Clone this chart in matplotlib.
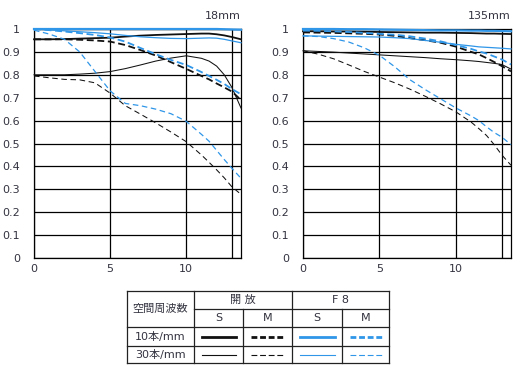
import matplotlib
matplotlib.use("Agg")
import matplotlib.pyplot as plt
from matplotlib.lines import Line2D

plt.rcParams['font.family'] = ['DejaVu Sans', 'Noto Sans CJK JP']
plt.rcParams['lines.scale_dashes'] = False

# ---------------- data ----------------
image_height = [0, 1, 2, 3, 4, 5, 6, 7, 8, 9, 10, 11, 11.5, 12, 12.5, 13, 13.6]

# 18mm
w_open_s10 = [0.955, 0.955, 0.956, 0.958, 0.960, 0.962, 0.967, 0.971, 0.974, 0.976, 0.978, 0.980, 0.980, 0.977, 0.972, 0.965, 0.955]
w_open_m10 = [0.955, 0.955, 0.955, 0.953, 0.950, 0.945, 0.930, 0.908, 0.884, 0.855, 0.826, 0.795, 0.780, 0.762, 0.745, 0.727, 0.690]
w_open_s30 = [0.800, 0.800, 0.800, 0.803, 0.807, 0.814, 0.827, 0.843, 0.860, 0.873, 0.883, 0.872, 0.860, 0.838, 0.800, 0.745, 0.655]
w_open_m30 = [0.795, 0.787, 0.780, 0.778, 0.765, 0.720, 0.665, 0.628, 0.590, 0.550, 0.508, 0.450, 0.418, 0.385, 0.350, 0.311, 0.278]
w_f8_s10 = [1.000, 1.000, 1.000, 1.000, 1.000, 1.000, 1.000, 1.000, 1.000, 1.000, 1.000, 1.000, 1.000, 1.000, 0.999, 0.998, 0.997]
w_f8_m10 = [1.000, 0.995, 0.989, 0.982, 0.974, 0.963, 0.945, 0.917, 0.890, 0.865, 0.843, 0.812, 0.795, 0.778, 0.760, 0.738, 0.715]
w_f8_s30 = [1.000, 0.996, 0.992, 0.988, 0.984, 0.979, 0.972, 0.966, 0.962, 0.959, 0.958, 0.960, 0.961, 0.960, 0.955, 0.948, 0.940]
w_f8_m30 = [0.995, 0.978, 0.955, 0.900, 0.815, 0.730, 0.675, 0.665, 0.650, 0.630, 0.597, 0.540, 0.510, 0.470, 0.430, 0.392, 0.348]

# 135mm
t_open_s10 = [0.990, 0.990, 0.989, 0.989, 0.988, 0.987, 0.986, 0.985, 0.984, 0.984, 0.983, 0.982, 0.981, 0.980, 0.980, 0.979, 0.978]
t_open_m10 = [0.985, 0.984, 0.983, 0.981, 0.979, 0.976, 0.970, 0.960, 0.951, 0.940, 0.923, 0.900, 0.889, 0.873, 0.856, 0.838, 0.815]
t_open_s30 = [0.905, 0.902, 0.899, 0.895, 0.891, 0.887, 0.883, 0.879, 0.875, 0.870, 0.866, 0.861, 0.858, 0.854, 0.850, 0.845, 0.825]
t_open_m30 = [0.905, 0.890, 0.870, 0.843, 0.815, 0.790, 0.765, 0.737, 0.706, 0.673, 0.638, 0.593, 0.565, 0.535, 0.495, 0.450, 0.405]
t_f8_s10 = [1.000, 1.000, 1.000, 0.999, 0.999, 0.998, 0.997, 0.996, 0.995, 0.994, 0.994, 0.993, 0.993, 0.992, 0.992, 0.991, 0.990]
t_f8_m10 = [0.993, 0.992, 0.990, 0.987, 0.983, 0.979, 0.975, 0.968, 0.958, 0.946, 0.930, 0.913, 0.902, 0.893, 0.880, 0.867, 0.845]
t_f8_s30 = [0.970, 0.969, 0.968, 0.967, 0.966, 0.965, 0.962, 0.958, 0.950, 0.942, 0.933, 0.926, 0.922, 0.920, 0.918, 0.916, 0.913]
t_f8_m30 = [0.970, 0.967, 0.958, 0.943, 0.918, 0.885, 0.835, 0.778, 0.735, 0.695, 0.655, 0.620, 0.600, 0.573, 0.548, 0.528, 0.495]

panel_titles = ["18mm", "135mm"]
x_ticks = [0, 5, 10]
y_ticks = [0, 0.1, 0.2, 0.3, 0.4, 0.5, 0.6, 0.7, 0.8, 0.9, 1.0]
y_tick_labels = ["0", "0.1", "0.2", "0.3", "0.4", "0.5", "0.6", "0.7", "0.8", "0.9", "1"]
extra_gridline = 13
x_max = 13.6

# ---------------- styles ----------------
BLACK = '#111111'
BLUE = '#2f96e8'
TXT = '#333340'
THICK = 1.3
THIN = 0.75
DASH_THICK = (5.0, 2.6)
DASH_THIN = (4.0, 2.6)

styles = {
    'open_s10': dict(color=BLACK, lw=THICK, ls='-'),
    'open_m10': dict(color=BLACK, lw=THICK, dashes=DASH_THICK),
    'open_s30': dict(color=BLACK, lw=THIN, ls='-'),
    'open_m30': dict(color=BLACK, lw=THIN, dashes=DASH_THIN),
    'f8_s10': dict(color=BLUE, lw=THICK + 0.3, ls='-'),
    'f8_m10': dict(color=BLUE, lw=THICK, dashes=DASH_THICK),
    'f8_s30': dict(color=BLUE, lw=THIN + 0.15, ls='-'),
    'f8_m30': dict(color=BLUE, lw=THIN + 0.15, dashes=DASH_THIN),
}

panels = [
    {'open_s10': w_open_s10, 'open_m10': w_open_m10, 'open_s30': w_open_s30, 'open_m30': w_open_m30,
     'f8_s10': w_f8_s10, 'f8_m10': w_f8_m10, 'f8_s30': w_f8_s30, 'f8_m30': w_f8_m30},
    {'open_s10': t_open_s10, 'open_m10': t_open_m10, 'open_s30': t_open_s30, 'open_m30': t_open_m30,
     'f8_s10': t_f8_s10, 'f8_m10': t_f8_m10, 'f8_s30': t_f8_s30, 'f8_m30': t_f8_m30},
]

W, H = 517, 373
fig = plt.figure(figsize=(W / 100, H / 100), dpi=100)
fig.patch.set_facecolor('white')

axes_px = [(34, 29, 207, 229), (303, 29, 208, 229)]

for (px, py, pw, ph), data, title in zip(axes_px, panels, panel_titles):
    ax = fig.add_axes([px / W, 1 - (py + ph) / H, pw / W, ph / H])
    ax.set_xlim(0, x_max)
    ax.set_ylim(0, 1)
    ax.set_xticks(x_ticks)
    ax.set_xticklabels([str(v) for v in x_ticks])
    ax.set_yticks(y_ticks)
    ax.set_yticklabels(y_tick_labels)
    ax.tick_params(axis='both', length=0, labelsize=8, colors=TXT)
    ax.tick_params(axis='y', pad=10)
    ax.tick_params(axis='x', pad=4)
    ax.grid(True, color='black', lw=0.9)
    ax.axvline(extra_gridline, color='black', lw=0.9, zorder=0.5)
    ax.set_axisbelow(True)
    for s in ax.spines.values():
        s.set_color('black')
        s.set_linewidth(0.9)
        s.set_zorder(0.6)
    for key in ['open_s30', 'open_m30', 'open_m10', 'open_s10',
                'f8_m30', 'f8_s30', 'f8_m10', 'f8_s10']:
        ax.plot(image_height, data[key], clip_on=False, zorder=3, **styles[key])
    ax.text(1.0, 1.035, title, transform=ax.transAxes, ha='right', va='bottom',
            fontsize=8, color=TXT)

# ---------------- legend table ----------------
tx0, ty0, tx1, ty1 = 127, 291, 389, 363
tab = fig.add_axes([tx0 / W, 1 - ty1 / H, (tx1 - tx0) / W, (ty1 - ty0) / H])
tab.set_xlim(tx0, tx1)
tab.set_ylim(ty1, ty0)
tab.axis('off')

cols = [127, 194, 243, 292, 342, 389]
rows = [291, 309, 327, 346, 363]
LC = '#222222'
LW = 0.9

def hline(y, x0, x1):
    tab.add_line(Line2D([x0, x1], [y, y], color=LC, lw=LW, clip_on=False))

def vline(x, y0, y1):
    tab.add_line(Line2D([x, x], [y0, y1], color=LC, lw=LW, clip_on=False))

hline(rows[0], cols[0], cols[-1])
hline(rows[1], cols[1], cols[-1])
hline(rows[2], cols[0], cols[-1])
hline(rows[3], cols[0], cols[-1])
hline(rows[4], cols[0], cols[-1])
vline(cols[0], rows[0], rows[-1])
vline(cols[1], rows[0], rows[-1])
vline(cols[2], rows[1], rows[-1])
vline(cols[3], rows[0], rows[-1])
vline(cols[4], rows[1], rows[-1])
vline(cols[5], rows[0], rows[-1])

tfs = 8
tab.text((cols[0] + cols[1]) / 2, (rows[0] + rows[2]) / 2, "空間周波数", ha='center', va='center', fontsize=tfs, color=TXT)
tab.text((cols[1] + cols[3]) / 2, (rows[0] + rows[1]) / 2, "開 放", ha='center', va='center', fontsize=tfs, color=TXT)
tab.text((cols[3] + cols[5]) / 2, (rows[0] + rows[1]) / 2, "F 8", ha='center', va='center', fontsize=tfs, color=TXT)
for i, lab in enumerate(["S", "M", "S", "M"]):
    tab.text((cols[i + 1] + cols[i + 2]) / 2, (rows[1] + rows[2]) / 2, lab, ha='center', va='center', fontsize=tfs, color=TXT)
tab.text((cols[0] + cols[1]) / 2, (rows[2] + rows[3]) / 2, "10本/mm", ha='center', va='center', fontsize=tfs, color=TXT)
tab.text((cols[0] + cols[1]) / 2, (rows[3] + rows[4]) / 2, "30本/mm", ha='center', va='center', fontsize=tfs, color=TXT)

sample_keys = [['open_s10', 'open_m10', 'f8_s10', 'f8_m10'],
               ['open_s30', 'open_m30', 'f8_s30', 'f8_m30']]
for r, keys in enumerate(sample_keys):
    yc = (rows[r + 2] + rows[r + 3]) / 2
    for c, key in enumerate(keys):
        x0 = cols[c + 1] + 8
        x1 = cols[c + 2] - 7
        st = dict(styles[key])
        if r == 0:
            st['lw'] = 2.0
        else:
            st['lw'] = 0.8
        if 'dashes' in st:
            st['dashes'] = (4.2, 2.0)
        tab.add_line(Line2D([x0, x1], [yc, yc], clip_on=False, **st))

fig.savefig("out.png", dpi=100, facecolor='white')
